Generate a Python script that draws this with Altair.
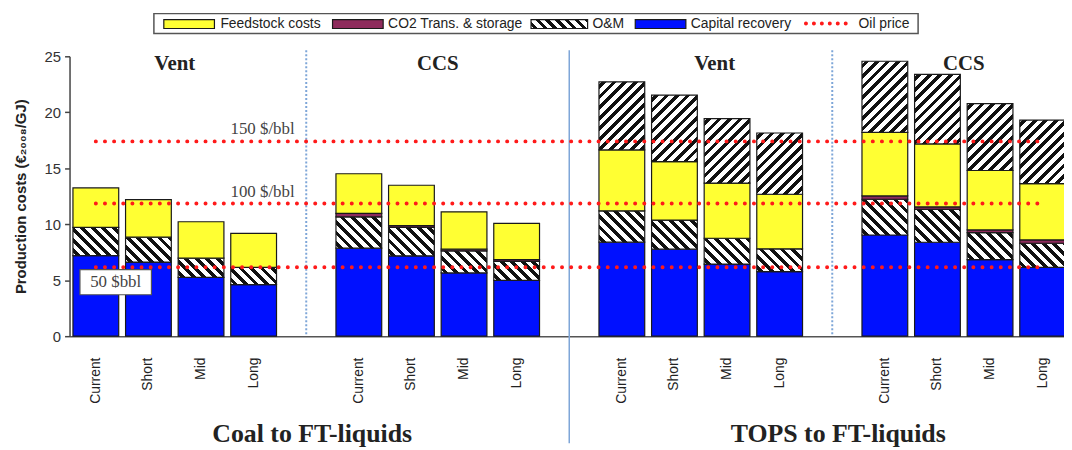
import math
import altair as alt

# ---------------- data ----------------
scenarios = ["Current", "Short", "Mid", "Long"]
groups = ["Coal Vent", "Coal CCS", "TOPS Vent", "TOPS CCS"]
group_titles = ["Vent", "CCS", "Vent", "CCS"]
chains = ["Coal to FT-liquids", "TOPS to FT-liquids"]

capital = [7.2, 6.62, 5.26, 4.61, 7.86, 7.18, 5.65, 4.99,
           8.4, 7.77, 6.44, 5.76, 9.04, 8.39, 6.83, 6.14]
om_lower = [2.52, 2.22, 1.71, 1.54, 2.8, 2.54, 1.97, 1.69,
            2.8, 2.6, 2.31, 2.04, 3.19, 2.93, 2.42, 2.16]
co2 = [0, 0, 0, 0, 0.31, 0.15, 0.15, 0.15,
       0, 0, 0, 0, 0.3, 0.23, 0.24, 0.3]
feedstock = [3.52, 3.36, 3.25, 3.04, 3.54, 3.61, 3.34, 3.25,
             5.44, 5.23, 4.93, 4.88, 5.67, 5.62, 5.31, 5.03]
om_upper = [0, 0, 0, 0, 0, 0, 0, 0,
            6.08, 5.94, 5.76, 5.47, 6.36, 6.21, 5.97, 5.67]

oil_price = [17.4, 11.85, 6.15]
oil_label = ["150 $/bbl", "100 $/bbl", "50 $bbl"]
legend_labels = ["Feedstock costs", "CO2 Trans. & storage", "O&M",
                 "Capital recovery", "Oil price"]

# ---------------- layout / style ----------------
W, H = 1000, 282
STEP = 53
XR = STEP * 19
P_IN = 0.13
BANDW = STEP * (1 - P_IN)
PX = H / 25.0
SERIF = "Liberation Serif"
SANS = "Liberation Sans"
YELLOW = "#ffff33"
MAROON = "#8e2b5c"
BLUE = "#0010ff"
RED = "#ff1a1a"
SEP = "#7ea6d8"


def hatch(w, h, forward, period=7.5, dark=0.45):
    r = h / w
    s = (1 + r) / (1 + r * r)
    if forward:
        x1, y1, x2, y2 = 0, 0, s, s * r
    else:
        x1, y1, x2, y2 = 0, 1, s, 1 - s * r
    n = (w + h) / math.sqrt(2) / period
    stops = [{"offset": 0, "color": "white"}]
    k = 0
    while True:
        a = (k + (1 - dark) / 2) / n
        if a >= 1:
            break
        b = min((k + (1 + dark) / 2) / n, 1)
        stops += [{"offset": a, "color": "white"}, {"offset": a, "color": "#111111"},
                  {"offset": b, "color": "#111111"}, {"offset": b, "color": "white"}]
        k += 1
    stops.append({"offset": 1, "color": "white"})
    return {"gradient": "linear", "x1": x1, "y1": y1, "x2": x2, "y2": y2, "stops": stops}


slots = []
gaps = ["gap1|", "gap2|", "gap3|"]
bar_slots = []
for gi, g in enumerate(groups):
    for sc in scenarios:
        slots.append(f"{g}|{sc}")
        bar_slots.append(f"{g}|{sc}")
    if gi < 3:
        slots.append(gaps[gi])

segs = {"capital": [], "om_lower": [], "co2": [], "feed": [], "om_upper": []}
for i, sl in enumerate(bar_slots):
    base = 0.0
    for name, arr in [("capital", capital), ("om_lower", om_lower), ("co2", co2),
                      ("feed", feedstock), ("om_upper", om_upper)]:
        v = arr[i]
        if v > 0:
            rec = {"slot": sl, "lo": base, "hi": base + v}
            if name == "om_lower":
                rec["grad"] = hatch(BANDW, v * PX, False)
            if name == "om_upper":
                rec["grad"] = hatch(BANDW, v * PX, True)
            segs[name].append(rec)
        base += v

xscale = alt.Scale(domain=slots, range=[0, XR], paddingInner=P_IN, paddingOuter=P_IN / 2)
yscale = alt.Scale(domain=[0, 25], nice=False)
xaxis = alt.Axis(labelAngle=270, labelExpr="split(datum.value, '|')[1]", ticks=False,
                 labelPadding=21, domainColor="#555555", domainWidth=1.5,
                 labelFont=SANS, labelFontSize=14, labelColor="#222222", grid=False)
yaxis = alt.Axis(values=[0, 5, 10, 15, 20, 25], tickSize=5, tickColor="#444444",
                 tickWidth=1.5, domainColor="#444444", domainWidth=1.5, grid=False,
                 labelFont=SANS, labelFontSize=15, labelColor="#333333", labelPadding=4,
                 titleFont=SANS, titleFontSize=15, titleFontWeight="bold",
                 titleColor="#222222", titlePadding=16)

X = alt.X("slot:N", scale=xscale, axis=xaxis, sort=slots, title=None)
Y = alt.Y("lo:Q", scale=yscale, axis=yaxis, title="Production costs (€₂₀₀₈/GJ)")


def bar_layer(name, fill=None):
    ch = alt.Chart(alt.Data(values=segs[name]))
    if fill is not None:
        return ch.mark_bar(fill=fill, stroke="#1a1a1a", strokeWidth=1.2).encode(x=X, y=Y, y2="hi:Q")
    return ch.mark_bar(stroke="#1a1a1a", strokeWidth=1.2).encode(
        x=X, y=Y, y2="hi:Q", fill=alt.Fill("grad:N", scale=None, legend=None))


layers = [
    bar_layer("capital", BLUE),
    bar_layer("om_lower"),
    bar_layer("co2", MAROON),
    bar_layer("feed", YELLOW),
    bar_layer("om_upper"),
]

# separators
sep_dot = alt.Chart(alt.Data(values=[{"slot": gaps[0]}, {"slot": gaps[2]}])).mark_rule(
    color=SEP, strokeWidth=2, strokeDash=[2, 2]).encode(
    x=alt.X("slot:N", scale=xscale), y=alt.value(-6), y2=alt.value(H))
sep_solid = alt.Chart(alt.Data(values=[{"slot": gaps[1]}])).mark_rule(
    color=SEP, strokeWidth=1.5).encode(
    x=alt.X("slot:N", scale=xscale), y=alt.value(-6), y2=alt.value(H + 108))
layers = [sep_dot, sep_solid] + layers

# oil price lines
oil_recs = [{"price": p, "x0": bar_slots[0], "x1": bar_slots[-1], "label": l}
            for p, l in zip(oil_price, oil_label)]
oil = alt.Chart(alt.Data(values=oil_recs)).mark_rule(
    color=RED, strokeWidth=4, strokeDash=[0.01, 9.2], strokeCap="round").encode(
    x=alt.X("x0:N", scale=xscale), x2="x1:N", y=alt.Y("price:Q", scale=yscale))
layers.append(oil)

oil_txt = alt.Chart(alt.Data(values=[{"slot": bar_slots[3], "price": p, "label": l}
                                     for p, l in zip(oil_price[:2], oil_label[:2])])).mark_text(
    font=SERIF, fontSize=17, color="#444444", dx=9, dy=-12).encode(
    x=alt.X("slot:N", scale=xscale), y=alt.Y("price:Q", scale=yscale), text="label:N")
layers.append(oil_txt)

box50 = alt.Chart(alt.Data(values=[{"slot": bar_slots[0], "price": oil_price[2]}])).mark_point(
    shape="M-1,-0.35H1V0.35H-1Z", filled=True, fill="white", stroke="#555555",
    strokeWidth=1.2, opacity=1, size=72 * 72).encode(
    x=alt.X("slot:N", scale=xscale), y=alt.Y("price:Q", scale=yscale),
    xOffset=alt.value(20 + BANDW / 2), yOffset=alt.value(15))
txt50 = alt.Chart(alt.Data(values=[{"slot": bar_slots[0], "price": oil_price[2],
                                    "label": oil_label[2]}])).mark_text(
    font=SERIF, fontSize=17, color="#444444", dx=20, dy=15).encode(
    x=alt.X("slot:N", scale=xscale), y=alt.Y("price:Q", scale=yscale), text="label:N")
layers += [box50, txt50]

# group titles
gt = alt.Chart(alt.Data(values=[{"slot": f"{g}|Short", "t": t}
                                for g, t in zip(groups, group_titles) if g != "TOPS Vent"])).mark_text(
    font=SERIF, fontSize=21, fontWeight="bold", color="#222222", dx=STEP / 2,
    baseline="middle").encode(x=alt.X("slot:N", scale=xscale), y=alt.value(8), text="t:N")
gt2 = alt.Chart(alt.Data(values=[{"slot": f"{groups[2]}|Short", "t": group_titles[2]}])).mark_text(
    font=SERIF, fontSize=21, fontWeight="bold", color="#222222", dx=STEP / 2 + 14,
    baseline="middle").encode(x=alt.X("slot:N", scale=xscale), y=alt.value(8), text="t:N")
layers += [gt, gt2]

ch_txt = alt.Chart(alt.Data(values=[{"slot": gaps[0], "t": chains[0]},
                                    {"slot": gaps[2], "t": chains[1]}])).mark_text(
    font=SERIF, fontSize=26, fontWeight="bold", color="#222222", dx=6,
    baseline="middle").encode(x=alt.X("slot:N", scale=xscale), y=alt.value(381), text="t:N")
layers.append(ch_txt)

# legend
one = alt.Data(values=[{}])
LY0, LY1, LYC = -37, -28, -33
layers.append(alt.Chart(one).mark_rect(fill="white", stroke="#555555", strokeWidth=1.5).encode(
    x=alt.value(85), x2=alt.value(855), y=alt.value(-43), y2=alt.value(-23)))
sw = [(95, 146, YELLOW), (265, 316, MAROON), (465, 522, None), (570, 621, BLUE)]
for x0, x1, c in sw:
    fill = c if c else hatch(x1 - x0, LY1 - LY0, False, period=7)
    layers.append(alt.Chart(one).mark_rect(fill=fill, stroke="#1a1a1a", strokeWidth=1.2).encode(
        x=alt.value(x0), x2=alt.value(x1), y=alt.value(LY0), y2=alt.value(LY1)))
layers.append(alt.Chart(one).mark_rule(color=RED, strokeWidth=4, strokeDash=[0.01, 8],
                                       strokeCap="round").encode(
    x=alt.value(742), x2=alt.value(786), y=alt.value(LYC)))
for xl, lab in zip([152, 321, 527, 626, 795], legend_labels):
    layers.append(alt.Chart(alt.Data(values=[{"l": lab}])).mark_text(
        font=SANS, fontSize=14, color="#222222", align="left", baseline="middle").encode(
        x=alt.value(xl), y=alt.value(LYC), text="l:N"))

chart = alt.layer(*layers).properties(
    width=W, height=H,
    autosize=alt.AutoSizeParams(type="none"),
    padding={"left": 62, "top": 47, "right": 2, "bottom": 111},
).configure_view(stroke=None)

chart.save("out.html", embed_options={"renderer": "svg", "actions": False})
